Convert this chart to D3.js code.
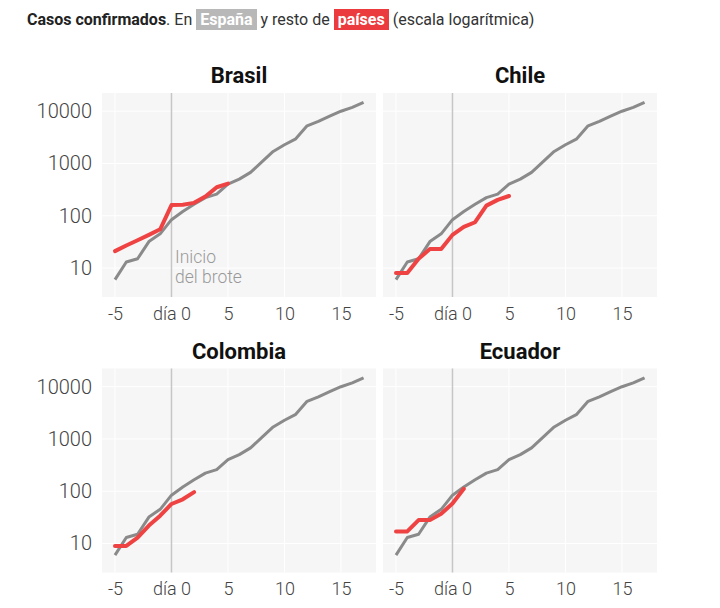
<!DOCTYPE html>
<html>
<head>
<meta charset="utf-8">
<script src="https://cdn.jsdelivr.net/npm/d3@7"></script>
<style>
  body { margin: 0; background: #fff; font-family: Roboto, "Open Sans", sans-serif; }
  #cabecera { position: absolute; left: 27px; top: 10px; font-size: 16px; color: #333; white-space: nowrap; }
  #cabecera b { color: #222; }
  .caja { color: #fff; font-weight: bold; padding: 1px 4px; }
  .gris { background: #b8b8b8; }
  .rojo { background: #ec3b3e; }
</style>
</head>
<body>
<div id="cabecera"></div>
<svg id="grafico" width="720" height="608"></svg>
<script>
// dias desde el inicio del brote
const dias = [-5, -4, -3, -2, -1, 0, 1, 2, 3, 4, 5, 6, 7, 8, 9, 10, 11, 12, 13, 14, 15, 16, 17];

// casos confirmados en España
const espana = [6, 13, 15, 32, 45, 84, 120, 165, 222, 259, 400, 500, 673, 1073, 1695, 2277, 2950, 5232, 6391, 7988, 9942, 11826, 14769];

// resto de países (desde el día -5)
const brasil = [21, 27, 34, 43, 55, 160, 162, 176, 232, 350, 410];
const chile = [8, 8, 15, 23, 23, 43, 61, 75, 156, 201, 238];
const colombia = [9, 9, 13, 22, 34, 57, 70, 96];
const ecuador = [17, 17, 28, 28, 37, 58, 111];

const paises = ["Brasil", "Chile", "Colombia", "Ecuador"];
const casosPaises = [brasil, chile, colombia, ecuador];

const ticksX = [-5, 0, 5, 10, 15];
const etiquetasX = ["-5", "día 0", "5", "10", "15"];
const ticksY = [10, 100, 1000, 10000];

// cabecera
d3.select("#cabecera").html(
  '<b>Casos confirmados</b>. En <span class="caja gris">España</span> y resto de ' +
  '<span class="caja rojo">países</span> (escala logarítmica)'
);

var ancho = 274, alto = 204;
var svg = d3.select("#grafico");

var x = d3.scaleLinear().domain([-6.15, 18.1]).range([0, ancho]);
var y = d3.scaleLog().domain([2.79, 22200]).range([alto, 0]);

var linea = d3.line()
  .x(function (d) { return x(d.dia); })
  .y(function (d) { return y(d.v); });

var datosEspana = dias.map(function (d, i) { return { dia: d, v: espana[i] }; });

paises.forEach(function (pais, k) {
  var col = k % 2, fila = Math.floor(k / 2);
  var g = svg.append("g")
    .attr("transform", "translate(" + (102 + col * 281) + "," + (93 + fila * 275.5) + ")");

  // fondo
  g.append("rect")
    .attr("width", ancho)
    .attr("height", alto)
    .attr("fill", "#f6f6f6");

  // rejilla
  g.append("g").selectAll("line")
    .data(ticksY)
    .enter().append("line")
      .attr("x1", 0).attr("x2", ancho)
      .attr("y1", function (d) { return y(d); })
      .attr("y2", function (d) { return y(d); })
      .attr("stroke", "#fff")
      .attr("stroke-width", 1);
  g.append("g").selectAll("line")
    .data(ticksX.filter(function (d) { return d !== 0; }))
    .enter().append("line")
      .attr("y1", 0).attr("y2", alto)
      .attr("x1", function (d) { return x(d); })
      .attr("x2", function (d) { return x(d); })
      .attr("stroke", "#fff")
      .attr("stroke-width", 1);

  // eje X
  var ejeX = g.append("g")
    .attr("transform", "translate(0," + alto + ")")
    .call(d3.axisBottom(x)
      .tickValues(ticksX)
      .tickSize(0)
      .tickPadding(10)
      .tickFormat(function (d, i) { return etiquetasX[i]; }));
  ejeX.select(".domain").remove();
  ejeX.selectAll("text")
    .attr("fill", "#444")
    .style("font-size", "18px")
    .style("font-family", "Roboto, sans-serif")
    .style("font-weight", "300");

  // eje Y solo en la columna izquierda
  if (col === 0) {
    var ejeY = g.append("g")
      .call(d3.axisLeft(y)
        .tickValues(ticksY)
        .tickSize(0)
        .tickPadding(10)
        .tickFormat(d3.format("d")));
    ejeY.select(".domain").remove();
    ejeY.selectAll("text")
      .attr("fill", "#444")
      .style("font-size", "20px")
      .style("font-family", "Roboto, sans-serif")
      .style("font-weight", "300");
  }

  // inicio del brote
  g.append("line")
    .attr("x1", x(0)).attr("x2", x(0))
    .attr("y1", 0).attr("y2", alto)
    .attr("stroke", "#c6c6c6")
    .attr("stroke-width", 1.5);

  if (k === 0) {
    var nota = g.append("text")
      .attr("fill", "#999")
      .style("font-size", "17.5px")
      .style("font-weight", "300");
    nota.append("tspan").attr("x", x(0) + 3.5).attr("y", 170).text("Inicio");
    nota.append("tspan").attr("x", x(0) + 3.5).attr("y", 190).text("del brote");
  }

  // España
  g.append("path")
    .datum(datosEspana)
    .attr("d", linea)
    .attr("fill", "none")
    .attr("stroke", "#8a8a8a")
    .attr("stroke-width", 3)
    .attr("stroke-linejoin", "round");

  // país
  var datosPais = casosPaises[k].map(function (v, i) { return { dia: dias[i], v: v }; });
  g.append("path")
    .datum(datosPais)
    .attr("d", linea)
    .attr("fill", "none")
    .attr("stroke", "#ef4343")
    .attr("stroke-width", 4)
    .attr("stroke-linejoin", "round")
    .attr("stroke-linecap", "round");

  // título
  g.append("text")
    .attr("x", ancho / 2)
    .attr("y", -10)
    .attr("text-anchor", "middle")
    .attr("fill", "#111")
    .style("font-size", "22px")
    .style("font-weight", "bold")
    .text(pais);
});
</script>
</body>
</html>
